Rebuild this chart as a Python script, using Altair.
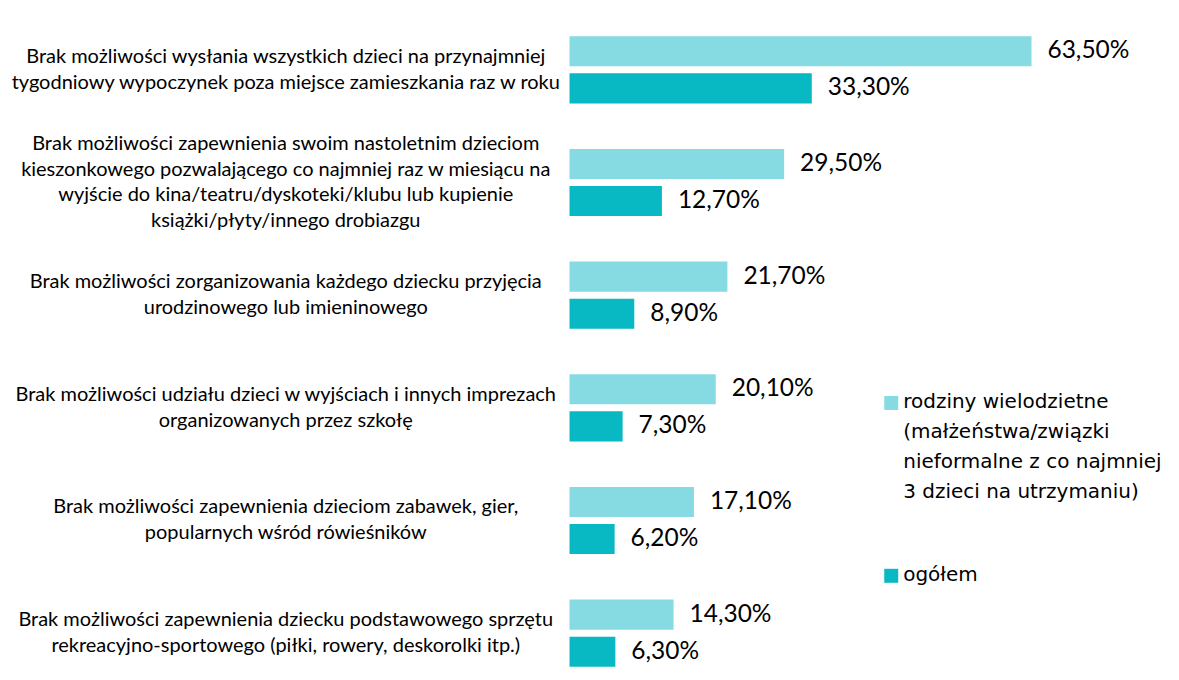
import altair as alt
import pandas as pd

categories = [
    "Brak możliwości wysłania wszystkich dzieci na przynajmniej|tygodniowy wypoczynek poza miejsce zamieszkania raz w roku",
    "Brak możliwości zapewnienia swoim nastoletnim dzieciom|kieszonkowego pozwalającego co najmniej raz w miesiącu na|wyjście do kina/teatru/dyskoteki/klubu lub kupienie|książki/płyty/innego drobiazgu",
    "Brak możliwości zorganizowania każdego dziecku przyjęcia|urodzinowego  lub imieninowego",
    "Brak możliwości udziału dzieci w wyjściach i innych imprezach|organizowanych przez szkołę",
    "Brak możliwości zapewnienia dzieciom zabawek, gier,|popularnych wśród rówieśników",
    "Brak możliwości zapewnienia dziecku podstawowego sprzętu|rekreacyjno-sportowego (piłki, rowery, deskorolki itp.)",
]
series = [
    "rodziny wielodzietne|(małżeństwa/związki|nieformalne z co najmniej|3 dzieci na utrzymaniu)",
    "ogółem",
]
colors = ["#86DAE1", "#08B8C2"]
wielodzietne = [63.5, 29.5, 21.7, 20.1, 17.1, 14.3]
ogolem = [33.3, 12.7, 8.9, 7.3, 6.2, 6.3]

rows = []
for c, a, b in zip(categories, wielodzietne, ogolem):
    for s, v in zip(series, (a, b)):
        rows.append({"cat": c, "series": s, "value": v,
                     "label": f"{v:.2f}".replace(".", ",") + "%"})
df = pd.DataFrame(rows)

# one row per line of each category label, with its position relative to the centre
line_rows = []
for c in categories:
    parts = c.split("|")
    n = len(parts)
    for i, p in enumerate(parts):
        line_rows.append({"cat": c, "line": p, "k": i - (n - 1) / 2})
lines_df = pd.DataFrame(line_rows)

LINE_H = 26
color_scale = alt.Scale(domain=series, range=colors)

y_scale = alt.Scale(domain=categories, paddingInner=0.404, paddingOuter=0.1197, align=0.889)
y_enc = alt.Y(
    "cat:N", sort=categories, scale=y_scale,
    axis=alt.Axis(title=None, labels=False, ticks=False,
                  domainColor="#A0A0A0", domainWidth=1.5, grid=False),
)
yoff = alt.YOffset("series:N", sort=series,
                   scale=alt.Scale(paddingInner=0.189, paddingOuter=0))
x_enc = alt.X("value:Q", scale=alt.Scale(domain=[0, 82.4]), axis=None)

base = alt.Chart(df)
bars = base.mark_bar().encode(
    y=y_enc, yOffset=yoff, x=x_enc,
    color=alt.Color("series:N", scale=color_scale, legend=None),
)
labels = base.mark_text(align="left", baseline="middle", dx=16, font="Lato",
                        fontSize=24.5, color="black").encode(
    y=y_enc, yOffset=yoff, x=x_enc, text="label:N"
)

cat_layers = []
for k in sorted(lines_df["k"].unique()):
    cat_layers.append(
        alt.Chart(lines_df).transform_filter(alt.datum.k == float(k))
        .mark_text(align="center", baseline="middle", font="Lato", fontSize=20,
                   color="black", dy=float(k) * LINE_H)
        .encode(y=alt.Y("cat:N", sort=categories, scale=y_scale, axis=None),
                x=alt.value(-284), text="line:N")
    )

leg1 = pd.DataFrame({"series": [series[0]]})
leg2 = pd.DataFrame({"series": [series[1]]})
sq1 = alt.Chart(leg1).mark_square(size=196, opacity=1).encode(
    x=alt.value(322), y=alt.value(391), color=alt.value(colors[0]))
sq2 = alt.Chart(leg2).mark_square(size=196, opacity=1).encode(
    x=alt.value(322), y=alt.value(564), color=alt.value(colors[1]))
tx1 = alt.Chart(leg1).mark_text(align="left", baseline="middle", font="DejaVu Sans",
                                fontSize=20, lineBreak="|", lineHeight=30,
                                color="black").encode(
    x=alt.value(334), y=alt.value(390), text="series:N")
tx2 = alt.Chart(leg2).mark_text(align="left", baseline="middle", font="DejaVu Sans",
                                fontSize=20, color="black").encode(
    x=alt.value(334), y=alt.value(563), text="series:N")

chart = alt.layer(bars, labels, *cat_layers, sq1, sq2, tx1, tx2).properties(
    width=600, height=658,
    autosize=alt.AutoSizeParams(type="none"),
    padding={"left": 562, "top": 4, "right": 2, "bottom": 0},
).configure_view(stroke=None)

chart.save("out.html", embed_options={"renderer": "svg", "actions": False})
